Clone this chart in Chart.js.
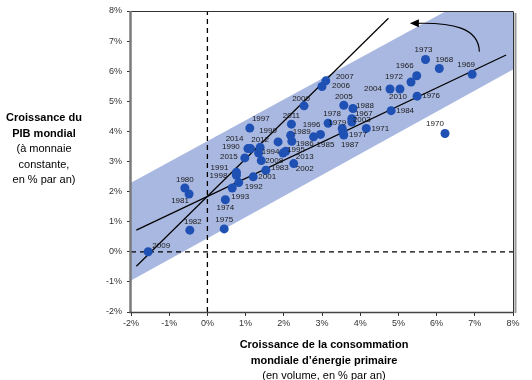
<!DOCTYPE html>
<html><head><meta charset="utf-8">
<script src="https://cdn.jsdelivr.net/npm/chart.js@4"></script>
<style>html,body{margin:0;padding:0;background:#fff;}canvas{display:block;}</style>
</head><body>
<canvas id="c" width="532" height="380"></canvas>
<script>
// ---- data ----
const years = [1966,1967,1968,1969,1970,1971,1972,1973,1974,1975,1976,1977,1978,1979,1980,1981,1982,1983,1984,1985,1986,1987,1988,1989,1990,1991,1992,1993,1994,1995,1996,1997,1998,1999,2000,2001,2002,2003,2004,2005,2006,2007,2008,2009,2010,2011,2012,2013,2014,2015];
const energyGrowth = [5.48,3.78,6.07,6.93,6.22,4.16,5.33,5.71,0.47,0.44,5.49,3.55,3.16,3.53,-0.59,-0.48,-0.46,1.53,4.81,2.96,2.21,3.57,3.81,2.18,1.06,0.76,0.82,0.65,1.34,1.98,2.78,1.11,0.76,1.85,2.53,1.20,2.26,3.78,4.78,3.57,3.00,3.10,1.41,-1.55,5.04,2.20,1.38,2.05,1.13,0.98];
const gdpGrowth = [5.85,4.42,6.09,5.90,3.93,4.10,5.64,6.39,1.73,0.76,5.17,3.98,4.27,4.10,2.12,1.92,0.72,2.71,4.69,3.90,3.67,3.88,4.76,3.87,3.43,2.64,2.30,2.12,3.28,3.28,3.82,4.11,2.54,3.65,4.85,2.49,2.93,4.31,5.41,4.87,5.49,5.68,3.03,0.00,5.41,4.24,3.47,3.34,3.43,3.12];
const xTicks = [-2,-1,0,1,2,3,4,5,6,7,8];
const yTicks = [-2,-1,0,1,2,3,4,5,6,7,8];
const steepLineX = [-1.86, 4.74];
const steepLineY = [-0.48, 7.76];
const shallowLineX = [-1.86, 7.82];
const shallowLineY = [0.72, 6.54];
const bandUpperX = [-2, 6.25, 8];
const bandUpperY = [2.29, 8, 8];
const bandLowerX = [-2, 8];
const bandLowerY = [-0.95, 6.06];
const arrowX = [7.12, 7.10, 6.40, 5.30];
const arrowY = [6.65, 7.45, 7.62, 7.59];
const yTitleLines = ["Croissance du","PIB mondial","(à monnaie","constante,","en % par an)"];
const xTitleLines = ["Croissance de la consommation","mondiale d’énergie primaire","(en volume, en % par an)"];

// ---- label placement (style) ----
const labelOffsets = {1966:[-12,-10],1967:[12,-5],1968:[5,-9],1969:[-6,-9],1970:[-10,-10],1971:[14,0],1972:[-17,-5],1973:[-2,-10],1974:[0,8],1975:[0,-9],1976:[14,0],1977:[15,3],1978:[4,-9],1979:[-5,-6],1980:[0,-8],1981:[-9,7],1982:[3,-8],1983:[14,-2],1984:[14,0],1985:[5,10],1986:[13,2],1987:[6,10],1988:[12,-3],1989:[11,-4],1990:[-17,-2],1991:[-17,-5],1992:[15,4],1993:[8,9],1994:[12,-1],1995:[13,-3],1996:[-2,-12],1997:[11,-9],1998:[-18,0],1999:[-10,-11],2000:[-3,-7],2001:[14,0],2002:[11,5],2003:[10,-2],2004:[-17,0],2005:[0,-8],2006:[19,-1],2007:[19,-4],2008:[13,0],2009:[13,-6],2010:[-2,8],2011:[0,-8],2012:[0,-8],2013:[19,6],2014:[-16,-10],2015:[-16,-1]};

const FONT = "'Liberation Sans', Arial, sans-serif";
const pts = years.map((y,i)=>({x:energyGrowth[i], y:gdpGrowth[i], year:y}));
const toPts = (xs,ys)=>xs.map((x,i)=>({x:x,y:ys[i]}));

const overlay = {
  id:'overlay',
  beforeDatasetsDraw(chart){
    const {ctx, scales:{x,y}, chartArea:a} = chart;
    ctx.save();
    ctx.beginPath();
    ctx.rect(a.left,a.top,a.right-a.left,a.bottom-a.top);
    ctx.clip();
    ctx.beginPath();
    bandUpperX.forEach((v,i)=>{const px=x.getPixelForValue(v),py=y.getPixelForValue(bandUpperY[i]); i?ctx.lineTo(px,py):ctx.moveTo(px,py);});
    for(let i=bandLowerX.length-1;i>=0;i--) ctx.lineTo(x.getPixelForValue(bandLowerX[i]), y.getPixelForValue(bandLowerY[i]));
    ctx.closePath();
    ctx.fillStyle = '#a9b8e1';
    ctx.fill();
    ctx.restore();
  },
  afterDatasetsDraw(chart){
    const {ctx, scales:{x,y}, chartArea:a} = chart;
    ctx.save();
    // arrow
    const P = arrowX.map((v,i)=>[x.getPixelForValue(v), y.getPixelForValue(arrowY[i])]);
    ctx.strokeStyle='#000'; ctx.lineWidth=1.2;
    ctx.beginPath();
    ctx.moveTo(P[0][0],P[0][1]);
    ctx.bezierCurveTo(P[1][0],P[1][1],P[2][0],P[2][1],P[3][0]+6,P[3][1]);
    ctx.stroke();
    ctx.fillStyle='#000';
    ctx.beginPath();
    ctx.moveTo(P[3][0],P[3][1]);
    ctx.lineTo(P[3][0]+9,P[3][1]-4);
    ctx.lineTo(P[3][0]+9,P[3][1]+4);
    ctx.closePath(); ctx.fill();
    // point labels
    ctx.font = '8px '+FONT;
    ctx.fillStyle = '#1a1a1a';
    ctx.textAlign='center'; ctx.textBaseline='middle';
    pts.forEach(p=>{
      const o = labelOffsets[p.year]||[0,-8];
      ctx.fillText(String(p.year), x.getPixelForValue(p.x)+o[0], y.getPixelForValue(p.y)+o[1]);
    });
    // frame
    ctx.lineCap='butt';
    ctx.strokeStyle='#9a9a9a'; ctx.lineWidth=2;
    ctx.beginPath(); ctx.moveTo(a.right+2.5,a.top+2); ctx.lineTo(a.right+2.5,a.bottom+1); ctx.stroke();
    ctx.strokeStyle='#333'; ctx.lineWidth=1;
    ctx.beginPath(); ctx.moveTo(a.left,a.top+0.5); ctx.lineTo(a.right+0.5,a.top+0.5); ctx.lineTo(a.right+0.5,a.bottom); ctx.stroke();
    ctx.strokeStyle='#7a7a7a'; ctx.lineWidth=2.5;
    ctx.beginPath(); ctx.moveTo(a.left-0.5,a.top); ctx.lineTo(a.left-0.5,a.bottom+1); ctx.stroke();
    ctx.strokeStyle='#444'; ctx.lineWidth=1.5;
    ctx.beginPath(); ctx.moveTo(a.left-1.5,a.bottom+0.5); ctx.lineTo(a.right+1,a.bottom+0.5); ctx.stroke();
    // titles
    ctx.fillStyle='#000'; ctx.textAlign='center'; ctx.textBaseline='middle';
    yTitleLines.forEach((t,i)=>{
      ctx.font = (i<2?'bold ':'')+'11px '+FONT;
      ctx.fillText(t, 44, 118 + i*15.5);
    });
    const cx = (a.left+a.right)/2 + 2;
    xTitleLines.forEach((t,i)=>{
      ctx.font = (i<2?'bold ':'')+'11px '+FONT;
      ctx.fillText(t, cx, 345 + i*15.5);
    });
    ctx.restore();
  }
};

new Chart(document.getElementById('c'), {
  type:'scatter',
  data:{datasets:[
    {data:toPts([0,0],[-2,8]), showLine:true, borderColor:'#000', borderWidth:1.3, borderDash:[5,4], pointRadius:0, order:5},
    {data:toPts([-2,8],[0,0]), showLine:true, borderColor:'#000', borderWidth:1.3, borderDash:[5,4], pointRadius:0, order:5},
    {data:toPts(steepLineX,steepLineY), showLine:true, borderColor:'#000', borderWidth:1.2, pointRadius:0, order:4},
    {data:toPts(shallowLineX,shallowLineY), showLine:true, borderColor:'#000', borderWidth:1.2, pointRadius:0, order:4},
    {data:pts, pointRadius:4.5, pointHoverRadius:4.5, pointBackgroundColor:'#1f50b3', pointBorderWidth:0, borderWidth:0, order:1}
  ]},
  options:{
    responsive:false, animation:false,
    layout:{padding:{top:11,right:19,left:0,bottom:0}},
    plugins:{legend:{display:false}, tooltip:{enabled:false}},
    scales:{
      x:{type:'linear', min:-2, max:8,
        afterBuildTicks(s){ s.ticks = xTicks.map(v=>({value:v})); },
        afterFit(s){ s.height = 68; },
        grid:{display:true, drawOnChartArea:false, drawTicks:true, tickLength:4, color:'#333', tickColor:'#333'},
        border:{display:false},
        ticks:{font:{size:9, family:FONT}, color:'#333', padding:2, maxRotation:0, callback:v=>v+'%'}
      },
      y:{type:'linear', min:-2, max:8,
        afterBuildTicks(s){ s.ticks = yTicks.map(v=>({value:v})); },
        afterFit(s){ s.width = 131; },
        grid:{display:true, drawOnChartArea:false, drawTicks:true, tickLength:4, color:'#333', tickColor:'#333'},
        border:{display:false},
        ticks:{font:{size:9, family:FONT}, color:'#333', padding:5, callback:v=>v+'%'}
      }
    }
  },
  plugins:[overlay]
});
</script>
</body></html>
